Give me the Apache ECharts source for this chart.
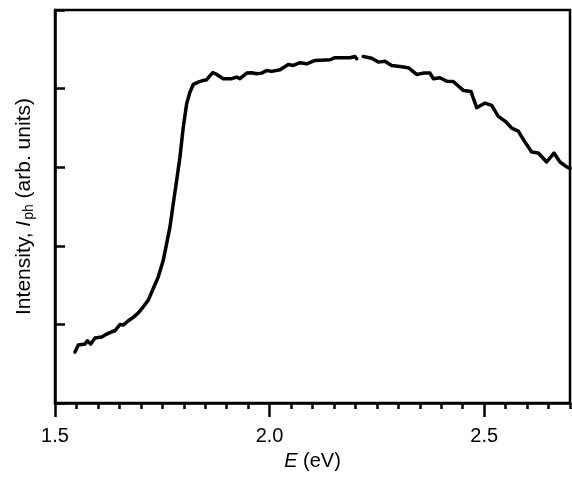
<!DOCTYPE html>
<html>
<head>
<meta charset="utf-8">
<script src="https://cdn.jsdelivr.net/npm/echarts@6/dist/echarts.min.js"></script>
<style>html,body{margin:0;padding:0;background:#fff}#c{width:572px;height:480px}</style>
</head>
<body>
<div id="c"></div>
<script>
// Photon energy E (eV)
var energy = [1.5466,1.5543,1.5699,1.5753,1.5832,1.5932,1.6088,1.6205,1.6321,1.6398,
  1.6515,1.6591,1.6708,1.6824,1.6941,1.7057,1.7174,1.7290,1.7407,1.7523,
  1.7586,1.7679,1.7756,1.7835,1.7912,1.7989,1.8068,1.8145,1.8222,1.8339,
  1.8455,1.8535,1.8674,1.8768,1.8921,1.9117,1.9233,1.9310,1.9466,1.9583,
  1.9699,1.9816,1.9932,2.0049,2.0242,2.0436,2.0552,2.0708,2.0864,2.1058,
  2.1407,2.1524,2.1873,2.1990,2.2029,2.2100,2.2183,2.2379,2.2533,2.2689,
  2.2845,2.3038,2.3232,2.3427,2.3581,2.3737,2.3814,2.3970,2.4126,2.4280,
  2.4513,2.4692,2.4825,2.5019,2.5175,2.5329,2.5485,2.5641,2.5795,2.5951,
  2.6107,2.6261,2.6456,2.6626,2.6766,2.6922,2.7000];
// Photocurrent intensity (arb. units); null = small break in the trace
var intensity = [0.648,0.737,0.750,0.792,0.750,0.826,0.839,0.877,0.906,0.919,
  1.000,0.991,1.046,1.089,1.147,1.224,1.309,1.457,1.605,1.817,
  1.986,2.240,2.537,2.834,3.130,3.511,3.808,3.956,4.053,4.083,
  4.104,4.113,4.202,4.180,4.126,4.126,4.146,4.126,4.197,4.202,
  4.189,4.197,4.231,4.219,4.240,4.307,4.295,4.329,4.316,4.358,
  4.367,4.393,4.393,4.409,4.380,null,4.409,4.387,4.337,4.349,
  4.295,4.282,4.266,4.180,4.197,4.197,4.126,4.138,4.095,4.091,
  3.977,3.964,3.757,3.816,3.787,3.647,3.587,3.498,3.460,3.320,
  3.193,3.180,3.066,3.180,3.066,3.003,2.985];
var xMin = 1.5, xMax = 2.7, xMajor = 0.5, xMinor = 0.05;
var yMin = 0, yMax = 5, yStep = 1;

var data = energy.map(function (e, i) { return [e, intensity[i]]; });
var font = 'Arimo, "Liberation Sans", Arial, Helvetica, sans-serif';

var chart = echarts.init(document.getElementById('c'), null, {renderer: 'canvas'});
chart.setOption({
  animation: false,
  backgroundColor: '#fff',
  grid: {left: 55, right: 2, top: 10, bottom: 77, show: true, borderColor: '#000', borderWidth: 2.5, backgroundColor: 'transparent'},
  xAxis: [{
    type: 'value', min: xMin, max: xMax, interval: xMajor,
    axisLine: {show: true, lineStyle: {color: '#000', width: 2.5}},
    axisTick: {show: true, length: 14, lineStyle: {color: '#000', width: 2.5}},
    axisLabel: {show: true, margin: 23, fontSize: 20, color: '#000', fontFamily: font, showMaxLabel: false,
      formatter: function (v) { return v.toFixed(1); }},
    splitLine: {show: false},
    name: '{i|E} (eV)', nameLocation: 'middle', nameGap: 48,
    nameTextStyle: {fontSize: 20, color: '#000', fontFamily: font,
      rich: {i: {fontStyle: 'italic', fontSize: 20, fontFamily: font, color: '#000'}}}
  }, {
    type: 'value', min: xMin, max: xMax, interval: xMinor, position: 'bottom',
    axisLine: {show: false},
    axisTick: {show: true, length: 6, lineStyle: {color: '#000', width: 2.5}},
    axisLabel: {show: false}, splitLine: {show: false}
  }],
  yAxis: [{
    type: 'value', min: yMin, max: yMax, interval: yStep,
    axisLine: {show: true, lineStyle: {color: '#000', width: 2.5}},
    axisTick: {show: true, inside: true, length: 10, lineStyle: {color: '#000', width: 2.5}},
    axisLabel: {show: false}, splitLine: {show: false},
    name: 'Intensity, {i|I}{sub|ph} (arb. units)', nameLocation: 'middle', nameGap: 19, nameRotate: 90,
    nameTextStyle: {fontSize: 21, color: '#000', fontFamily: font, lineHeight: 24,
      rich: {
        i: {fontStyle: 'italic', fontSize: 21, fontFamily: font, color: '#000', lineHeight: 24},
        sub: {fontSize: 14, fontFamily: font, color: '#000', lineHeight: 24, verticalAlign: 'bottom', padding: [10, 0, 0, 1]}
      }}
  }],
  series: [{
    type: 'line', data: data, xAxisIndex: 0, yAxisIndex: 0,
    showSymbol: false, connectNulls: false, smooth: false,
    lineStyle: {color: '#000', width: 3.5, join: 'round', cap: 'round'}
  }]
});
</script>
</body>
</html>
